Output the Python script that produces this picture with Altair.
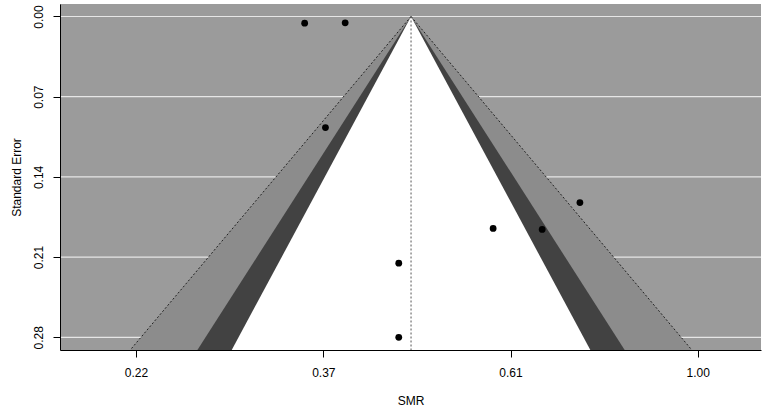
import altair as alt
import pandas as pd
import numpy as np

# ---- data ----
smr = [0.350, 0.390, 0.370, 0.730, 0.579, 0.660, 0.450, 0.450]
se = [0.0058, 0.0055, 0.0970, 0.1624, 0.1850, 0.1859, 0.2153, 0.2800]
center_smr = 0.465          # reference line (pooled estimate)
z_levels = [1.645, 1.96, 2.576]   # 90%, 95%, 99% contours
se_ticks = [0.00, 0.07, 0.14, 0.21, 0.28]
x_ticks = [0.2231, 0.3679, 0.6065, 1.0]   # labelled 0.22 0.37 0.61 1.00
y_domain = [-0.0109, 0.2911]
x_domain = [0.1821, 1.184]

pts = pd.DataFrame({"smr": smr, "se": se})

c = np.log(center_smr)
se_ends = [0.0, y_domain[1]]
funnel = pd.DataFrame({"se": se_ends})
for z, name in zip(z_levels, ["90", "95", "99"]):
    funnel["lo" + name] = [float(np.exp(c - z * s)) for s in se_ends]
    funnel["hi" + name] = [float(np.exp(c + z * s)) for s in se_ends]
funnel["center"] = center_smr

xscale = alt.Scale(type="log", domain=x_domain, nice=False, zero=False)
yscale = alt.Scale(domain=y_domain, reverse=True, nice=False, zero=False)

font = "Liberation Sans"

xaxis = alt.Axis(values=x_ticks, format=".2f", title="SMR", grid=False,
                 tickSize=7, tickColor="black", domainColor="black",
                 labelFontSize=12, titleFontSize=12, labelFont=font, titleFont=font,
                 labelColor="black", titleColor="black", titleFontWeight="normal",
                 labelPadding=10, titlePadding=17, zindex=1, labelFlush=False)
yaxis = alt.Axis(values=se_ticks, format=".2f", title="Standard Error", grid=False,
                 tickSize=7, tickColor="black", domainColor="black",
                 labelFontSize=12, titleFontSize=12, labelFont=font, titleFont=font,
                 labelColor="black", titleColor="black", titleFontWeight="normal",
                 labelAngle=270, labelAlign="center", labelBaseline="bottom",
                 labelPadding=8, titlePadding=9, zindex=1, labelFlush=False)

grid = alt.Chart(pd.DataFrame({"se": se_ticks})).mark_rule(
    color="#e6e6e6", strokeWidth=1.2).encode(
    y=alt.Y("se:Q", scale=yscale, axis=yaxis),
)

def band(name, color):
    return alt.Chart(funnel).mark_area(orient="horizontal", color=color, clip=True,
                                       opacity=1).encode(
        y=alt.Y("se:Q", scale=yscale),
        x=alt.X("lo" + name + ":Q", scale=xscale, axis=xaxis),
        x2="hi" + name + ":Q",
    )

b99 = band("99", "#8c8c8c")
b95 = band("95", "#424242")
b90 = band("90", "#ffffff")

dot_lo = alt.Chart(funnel).mark_line(color="#222222", strokeDash=[2, 2], strokeWidth=1).encode(
    x=alt.X("lo99:Q", scale=xscale), y=alt.Y("se:Q", scale=yscale), order="se:Q")
dot_hi = alt.Chart(funnel).mark_line(color="#222222", strokeDash=[2, 2], strokeWidth=1).encode(
    x=alt.X("hi99:Q", scale=xscale), y=alt.Y("se:Q", scale=yscale), order="se:Q")
dot_c = alt.Chart(funnel).mark_line(color="#555555", strokeDash=[2, 2], strokeWidth=1).encode(
    x=alt.X("center:Q", scale=xscale), y=alt.Y("se:Q", scale=yscale), order="se:Q")

points = alt.Chart(pts).mark_circle(color="black", size=46, opacity=1).encode(
    x=alt.X("smr:Q", scale=xscale), y=alt.Y("se:Q", scale=yscale))

chart = alt.layer(grid, b99, b95, b90, dot_lo, dot_hi, dot_c, points).properties(
    width=701, height=346,
    autosize=alt.AutoSizeParams(type="none"),
    padding={"left": 60, "top": 4, "right": 6, "bottom": 62},
    background="white",
).configure_view(fill="#9b9b9b", stroke=None)

chart.save("out.html", embed_options={"renderer": "svg", "actions": False})
